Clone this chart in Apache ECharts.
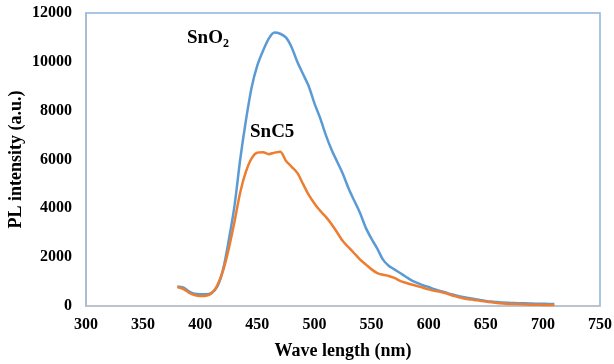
<!DOCTYPE html>
<html>
<head>
<meta charset="utf-8">
<script src="https://cdn.jsdelivr.net/npm/echarts@6/dist/echarts.min.js"></script>
<style>html,body{margin:0;padding:0;background:#fff}#c{width:614px;height:364px}</style>
</head>
<body>
<div id="c"></div>
<script>
const wavelengths = [380,385,390,395,400,405,410,415,420,425,430,435,440,445,450,455,460,465,470,475,480,485,490,495,500,505,510,515,520,525,530,535,540,545,550,555,560,565,570,575,580,585,590,595,600,605,610,615,620,625,630,635,640,645,650,655,660,665,670,675,680,685,690,695,700,705,710];
const sno2 = [800,760,600,500,480,480,540,800,1500,2700,4100,6000,7600,8950,9850,10450,10950,11200,11150,11000,10600,10000,9500,9000,8300,7700,7000,6400,5900,5400,4800,4300,3800,3200,2750,2350,1900,1650,1500,1350,1200,1050,950,850,780,690,620,550,480,420,370,330,290,250,210,180,160,140,130,120,115,110,100,95,90,85,80];
const snc5 = [780,700,550,450,410,420,520,850,1450,2350,3450,4650,5500,6050,6280,6300,6220,6280,6320,5950,5700,5450,5000,4550,4200,3900,3650,3350,3000,2650,2400,2150,1900,1700,1500,1350,1280,1230,1150,1030,950,880,820,750,680,620,580,520,440,380,320,280,250,210,180,150,120,100,85,80,75,65,55,50,45,40,40];
const xTicks = [300,750,50];
const yTicks = [0,12000,2000];

const font = '"Liberation Serif","Times New Roman",serif';
const chart = echarts.init(document.getElementById('c'), null, {renderer:'canvas'});
chart.setOption({
  animation:false,
  grid:{left:86,right:14,top:13,bottom:58,show:true,borderColor:'#8fb4e0',borderWidth:1.5,outerBoundsMode:'none',containLabel:false},
  xAxis:{type:'value',min:xTicks[0],max:xTicks[1],interval:xTicks[2],
    name:'Wave length (nm)',nameLocation:'middle',nameGap:36,nameMoveOverlap:false,
    nameTextStyle:{fontFamily:font,fontWeight:'bold',fontSize:18,color:'#000'},
    axisLine:{show:true,lineStyle:{color:'#c3c3c3',width:1.5}},
    axisTick:{show:false},splitLine:{show:false},
    axisLabel:{fontFamily:font,fontWeight:'bold',fontSize:16,color:'#000',margin:11,formatter:v=>String(v)}},
  yAxis:{type:'value',min:yTicks[0],max:yTicks[1],interval:yTicks[2],
    name:'PL intensity (a.u.)',nameLocation:'middle',nameGap:61,nameMoveOverlap:false,
    nameTextStyle:{fontFamily:font,fontWeight:'bold',fontSize:18,color:'#000'},
    axisLine:{show:true,lineStyle:{color:'#a9b9cc',width:1.5}},
    axisTick:{show:false},splitLine:{show:false},
    axisLabel:{fontFamily:font,fontWeight:'bold',fontSize:16,color:'#000',margin:14,formatter:v=>String(v)}},
  series:[
    {name:'SnO2',type:'line',showSymbol:false,smooth:0.3,
     data:wavelengths.map((w,i)=>[w,sno2[i]]),
     lineStyle:{color:'#5b9bd5',width:2.5},itemStyle:{color:'#5b9bd5'}},
    {name:'SnC5',type:'line',showSymbol:false,smooth:0.3,
     data:wavelengths.map((w,i)=>[w,snc5[i]]),
     lineStyle:{color:'#ed7d31',width:2.5},itemStyle:{color:'#ed7d31'}}
  ],
  graphic:[
    {type:'text',left:187,top:29,style:{
      text:'{a|SnO}{b|2}',
      rich:{a:{fontFamily:font,fontWeight:'bold',fontSize:19,fill:'#000'},
            b:{fontFamily:font,fontWeight:'bold',fontSize:12,fill:'#000',padding:[10,0,0,0]}}}},
    {type:'text',left:250,top:123,style:{text:'SnC5',fontFamily:font,fontWeight:'bold',fontSize:19,fill:'#000'}}
  ]
});
</script>
</body>
</html>
